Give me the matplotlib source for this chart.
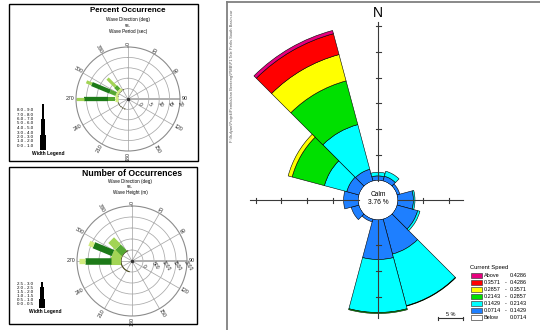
import numpy as np
import matplotlib.pyplot as plt
from matplotlib.patches import Rectangle

plt.rcParams['font.family'] = ['Liberation Sans', 'DejaVu Sans']

# ---------------- current rose (right panel) ----------------
dirs = np.arange(0, 360, 30)
speed_names = [("Below", "0.0714"), ("0.0714", "0.1429"), ("0.1429", "0.2143"),
               ("0.2143", "0.2857"), ("0.2857", "0.3571"), ("0.3571", "0.4286"),
               ("Above", "0.4286")]
speed_colors = ['white', '#1e7fff', '#00ffff', '#00e000', '#ffff00', '#ff0000', '#e6007e']
# percent of records per direction, slowest class first
pct_below = [0, 0, 0, 0, 0, 0, 0, 0, 0, 0, 0, 0]
pct_c1 = [0.9, 1.0, 0.6, 3.1, 4.2, 7.1, 7.8, 0.6, 1.6, 2.9, 2.5, 2.4]
pct_c2 = [0.7, 1.0, 0.0, 0.3, 0.45, 10.4, 10.3, 0, 0, 0, 4.5, 9.0]
pct_c3 = [0, 0, 0, 0, 0, 0.1, 0.2, 0, 0, 0, 6.5, 8.8]
pct_c4 = [0, 0, 0, 0, 0, 0, 0, 0, 0, 0, 0.8, 5.3]
pct_c5 = [0, 0, 0, 0, 0, 0, 0, 0, 0, 0, 0, 4.2]
pct_c6 = [0, 0, 0, 0, 0, 0, 0, 0, 0, 0, 0, 0.65]
calm_pct = 3.76
file_path = r"F:\Sufyan\Projek\Pembaikan Benteng\PMB\P1 Tele Perlis South Basin.cur"

# ---------------- wave roses (left panels) ----------------
ring_dirs = np.arange(0, 360, 30)
# percent occurrence, direction vs period
per_dirs = [270, 292.5, 315]
per_edges = [[0, 1.2, 4.6, 16.2, 20.0],
             [0, 1.2, 4.3, 13.8, 16.6],
             [0, 1.2, 3.5, 8.9]]
per_cls = [[0, 2, 3, 1], [0, 2, 3, 1], [0, 2, 1]]
per_rings = ["0", "5", "10", "15", "20"]
per_width_labels = ["8.0 - 9.0", "7.0 - 8.0", "6.0 - 7.0", "5.0 - 6.0", "4.0 - 5.0",
                    "3.0 - 4.0", "2.0 - 3.0", "1.0 - 2.0", "0.0 - 1.0"]
# number of occurrences, direction vs height
num_dirs = [270, 292.5, 315]
num_edges = [[0, 440, 1640, 1910],
             [0, 440, 1375, 1600],
             [0, 400, 840]]
num_cls = [[1, 3, 0], [1, 3, 0], [2, 1]]
num_rings = ["0", "500", "1000", "1500", "2000"]
num_width_labels = ["2.5 - 3.0", "2.0 - 2.5", "1.5 - 2.0", "1.0 - 1.5", "0.5 - 1.0", "0.0 - 0.5"]

wave_colors = ['#d2ec7e', '#a2d455', '#55a832', '#1d7a18']

W, H = 540, 330
fig = plt.figure(figsize=(W / 100, H / 100), dpi=100)


def place(cx, cy, r, **kw):
    # square axes given in pixels, y counted from the top
    return fig.add_axes([(cx - r) / W, (H - cy - r) / H, 2 * r / W, 2 * r / H], **kw)


# overlay used for text, frames and the axis cross
cv = fig.add_axes([0, 0, 1, 1], zorder=5)
cv.set_xlim(0, W)
cv.set_ylim(H, 0)
cv.axis('off')

# ---------- right panel ----------
rc_x, rc_y = 378, 200
px_pct = 25.7 / 5
calm_r = 19.5
box_r = 180
rose = place(rc_x, rc_y, box_r, projection='polar')
rose.set_theta_zero_location('N')
rose.set_theta_direction(-1)
rose.set_ylim(0, (box_r - calm_r) / px_pct)
rose.set_rorigin(-calm_r / px_pct)
rose.set_axis_off()

bottom = np.zeros(len(dirs))
for vals, col in zip([pct_below, pct_c1, pct_c2, pct_c3, pct_c4, pct_c5, pct_c6], speed_colors):
    vals = np.array(vals, dtype=float)
    m = vals > 0
    if m.any():
        rose.bar(np.deg2rad(dirs[m]), vals[m], width=np.deg2rad(30), bottom=bottom[m],
                 color=col, edgecolor='black', linewidth=0.4)
    bottom += vals
th = np.linspace(0, 2 * np.pi, 361)
rose.plot(th, np.zeros_like(th), color='black', lw=0.5)

# axis cross with 5 % ticks
for dx, dy, L in [(0, -1, 178), (0, 1, 118), (-1, 0, 128), (1, 0, 85)]:
    cv.plot([rc_x + dx * calm_r, rc_x + dx * L], [rc_y + dy * calm_r, rc_y + dy * L],
            color='#3a3a3a', lw=0.8)
    rt = calm_r + 5 * np.arange(1, 10) * px_pct
    for r in rt[rt < L]:
        if dx == 0:
            cv.plot([rc_x - 2.5, rc_x + 2.5], [rc_y + dy * r] * 2, color='#3a3a3a', lw=0.8)
        else:
            cv.plot([rc_x + dx * r] * 2, [rc_y - 2.5, rc_y + 2.5], color='#3a3a3a', lw=0.8)

cv.text(rc_x, 13, "N", fontsize=10, ha='center', va='center')
cv.text(rc_x, 194, "Calm", fontsize=4.8, ha='center', va='center')
cv.text(rc_x, 202, "%.2f %%" % calm_pct, fontsize=4.8, ha='center', va='center')
cv.text(232, 10, file_path, fontsize=2.9, rotation=90, ha='center', va='top', color='#555555')

# legend
cv.text(470, 268, "Current Speed", fontsize=4.2, ha='left', va='center')
for i, ((lo, hi), col) in enumerate(zip(speed_names[::-1], speed_colors[::-1])):
    y = 275.5 + i * 7
    cv.add_patch(Rectangle((471, y - 2.8), 11, 5.6, facecolor=col, edgecolor='#444444', lw=0.5))
    cv.text(484, y, lo, fontsize=4, ha='left', va='center')
    cv.text(527, y, hi, fontsize=4, ha='right', va='center')
    if lo not in ("Above", "Below"):
        cv.text(505.5, y, "-", fontsize=4, ha='center', va='center')

# 5 % scale bar
sb_x0, sb_y = 437.5, 318
sb_x1 = sb_x0 + 5 * px_pct
cv.plot([sb_x0, sb_x1], [sb_y, sb_y], color='#333333', lw=0.8)
cv.plot([sb_x0, sb_x0], [sb_y - 1.5, sb_y + 2], color='#333333', lw=0.8)
cv.plot([sb_x1, sb_x1], [sb_y - 1.5, sb_y + 2], color='#333333', lw=0.8)
cv.text((sb_x0 + sb_x1) / 2, 314, "5 %", fontsize=4, ha='center', va='center')

# panel frame
cv.plot([227, 227], [2, H], color='#808080', lw=1.3)
cv.plot([227, W], [2, 2], color='#808080', lw=1.3)


# ---------- left panels ----------
def wave_rose(cx, cy, R, step, rings, pdirs, pedges, pcls, lws, title, title_y, title_fs, dotted):
    nr = len(rings)
    ax = place(cx, cy, R, projection='polar')
    ax.set_theta_zero_location('N')
    ax.set_theta_direction(-1)
    ax.set_ylim(-step, step * (nr - 1))
    ax.set_rticks(np.arange(0, step * (nr - 1), step))
    ax.set_yticklabels([])
    ax.set_thetagrids(ring_dirs, labels=[''] * len(ring_dirs))
    ax.grid(color='#a8a8a8', lw=0.55)
    ax.spines['polar'].set_color('#8c8c8c')
    ax.spines['polar'].set_linewidth(0.8)
    ax.tick_params(length=0, pad=0)
    ax.plot([np.pi / 2] * 2, [-step, step * (nr - 1)], color='#b0b0b0', lw=1.4)

    arc = np.deg2rad(np.linspace(195, 337, 60))
    ax.plot(arc, np.zeros_like(arc), color='#4b4a1e', lw=0.8,
            ls=(0, (1, 1)) if dotted else '-')
    for d, edges, cls in zip(pdirs, pedges, pcls):
        t = np.deg2rad(d)
        for r1, r2, c in zip(edges[:-1], edges[1:], cls):
            ax.plot([t, t], [r1, r2], color=wave_colors[c], lw=lws[c], solid_capstyle='butt')
    ax.plot([0], [-step], marker='o', ms=1.5, color='#333333')

    # direction labels, written along the radius
    for d in ring_dirs:
        lab = str(d)
        rr = R + 2.0 + 1.2 * len(lab)
        a = np.deg2rad(d)
        rot = 90 - d
        while rot > 90:
            rot -= 180
        while rot <= -90:
            rot += 180
        cv.text(cx + rr * np.sin(a), cy - rr * np.cos(a), lab, fontsize=3.8,
                rotation=rot, ha='center', va='center', color='#222222')
    # ring values along the east spoke
    for k, lab in enumerate(rings):
        rpx = R * (k + 1) / nr
        cv.text(cx + rpx + 1, cy + 5, lab, fontsize=3.6, rotation=-55,
                ha='center', va='center', color='#222222')

    cv.text(cx, title_y, title, fontsize=title_fs, fontweight='bold', ha='center', va='center')


# percent occurrence
wave_rose(128, 99, 52, 5, per_rings, per_dirs, per_edges, per_cls, [3.8, 2.3, 2.9, 3.1],
          "Percent Occurrence", 10, 5.8, True)
for y, s in zip([19, 25.5, 32], ["Wave Direction (deg)", "vs.", "Wave Period (sec)"]):
    cv.text(128, y, s, fontsize=3.3, ha='center', va='center')

# number of occurrences
wave_rose(132, 261, 55, 500, num_rings, num_dirs, num_edges, num_cls, [3.8, 5.8, 5.4, 4.7],
          "Number of Occurrences", 173, 6.3, False)
for y, s in zip([181, 187, 192.5], ["Wave Direction (deg)", "vs.", "Wave Height (m)"]):
    cv.text(130, y, s, fontsize=3.3, ha='center', va='center')

# width legends: stepped black wedge next to the class labels
per_w = np.linspace(1.2, 6.5, len(per_width_labels))
per_y = 110 + 4.5 * np.arange(len(per_width_labels))
cv.barh(104 + 5.1 * np.arange(len(per_w)) + 2.55, per_w, height=5.2, left=43 - per_w / 2,
        color='black')
for y, s in zip(per_y, per_width_labels):
    cv.text(17, y, s, fontsize=3.2, ha='left', va='center')
cv.text(48, 154, "Width Legend", fontsize=3.5, fontweight='bold', ha='center', va='center')

num_w = np.linspace(2.5, 5.8, len(num_width_labels))
num_y = 284 + 4 * np.arange(len(num_width_labels))
cv.barh(282.5 + 4.2 * np.arange(len(num_w)) + 2.1, num_w, height=4.3, left=42 - num_w / 2,
        color='black')
for y, s in zip(num_y, num_width_labels):
    cv.text(17, y, s, fontsize=3.2, ha='left', va='center')
cv.text(45, 312, "Width Legend", fontsize=3.5, fontweight='bold', ha='center', va='center')

# panel frames
cv.add_patch(Rectangle((9, 4), 189, 157, fill=False, edgecolor='black', lw=1.0))
cv.add_patch(Rectangle((9, 167), 188, 157, fill=False, edgecolor='black', lw=1.0))

fig.savefig("out.png", dpi=100, facecolor='white')
